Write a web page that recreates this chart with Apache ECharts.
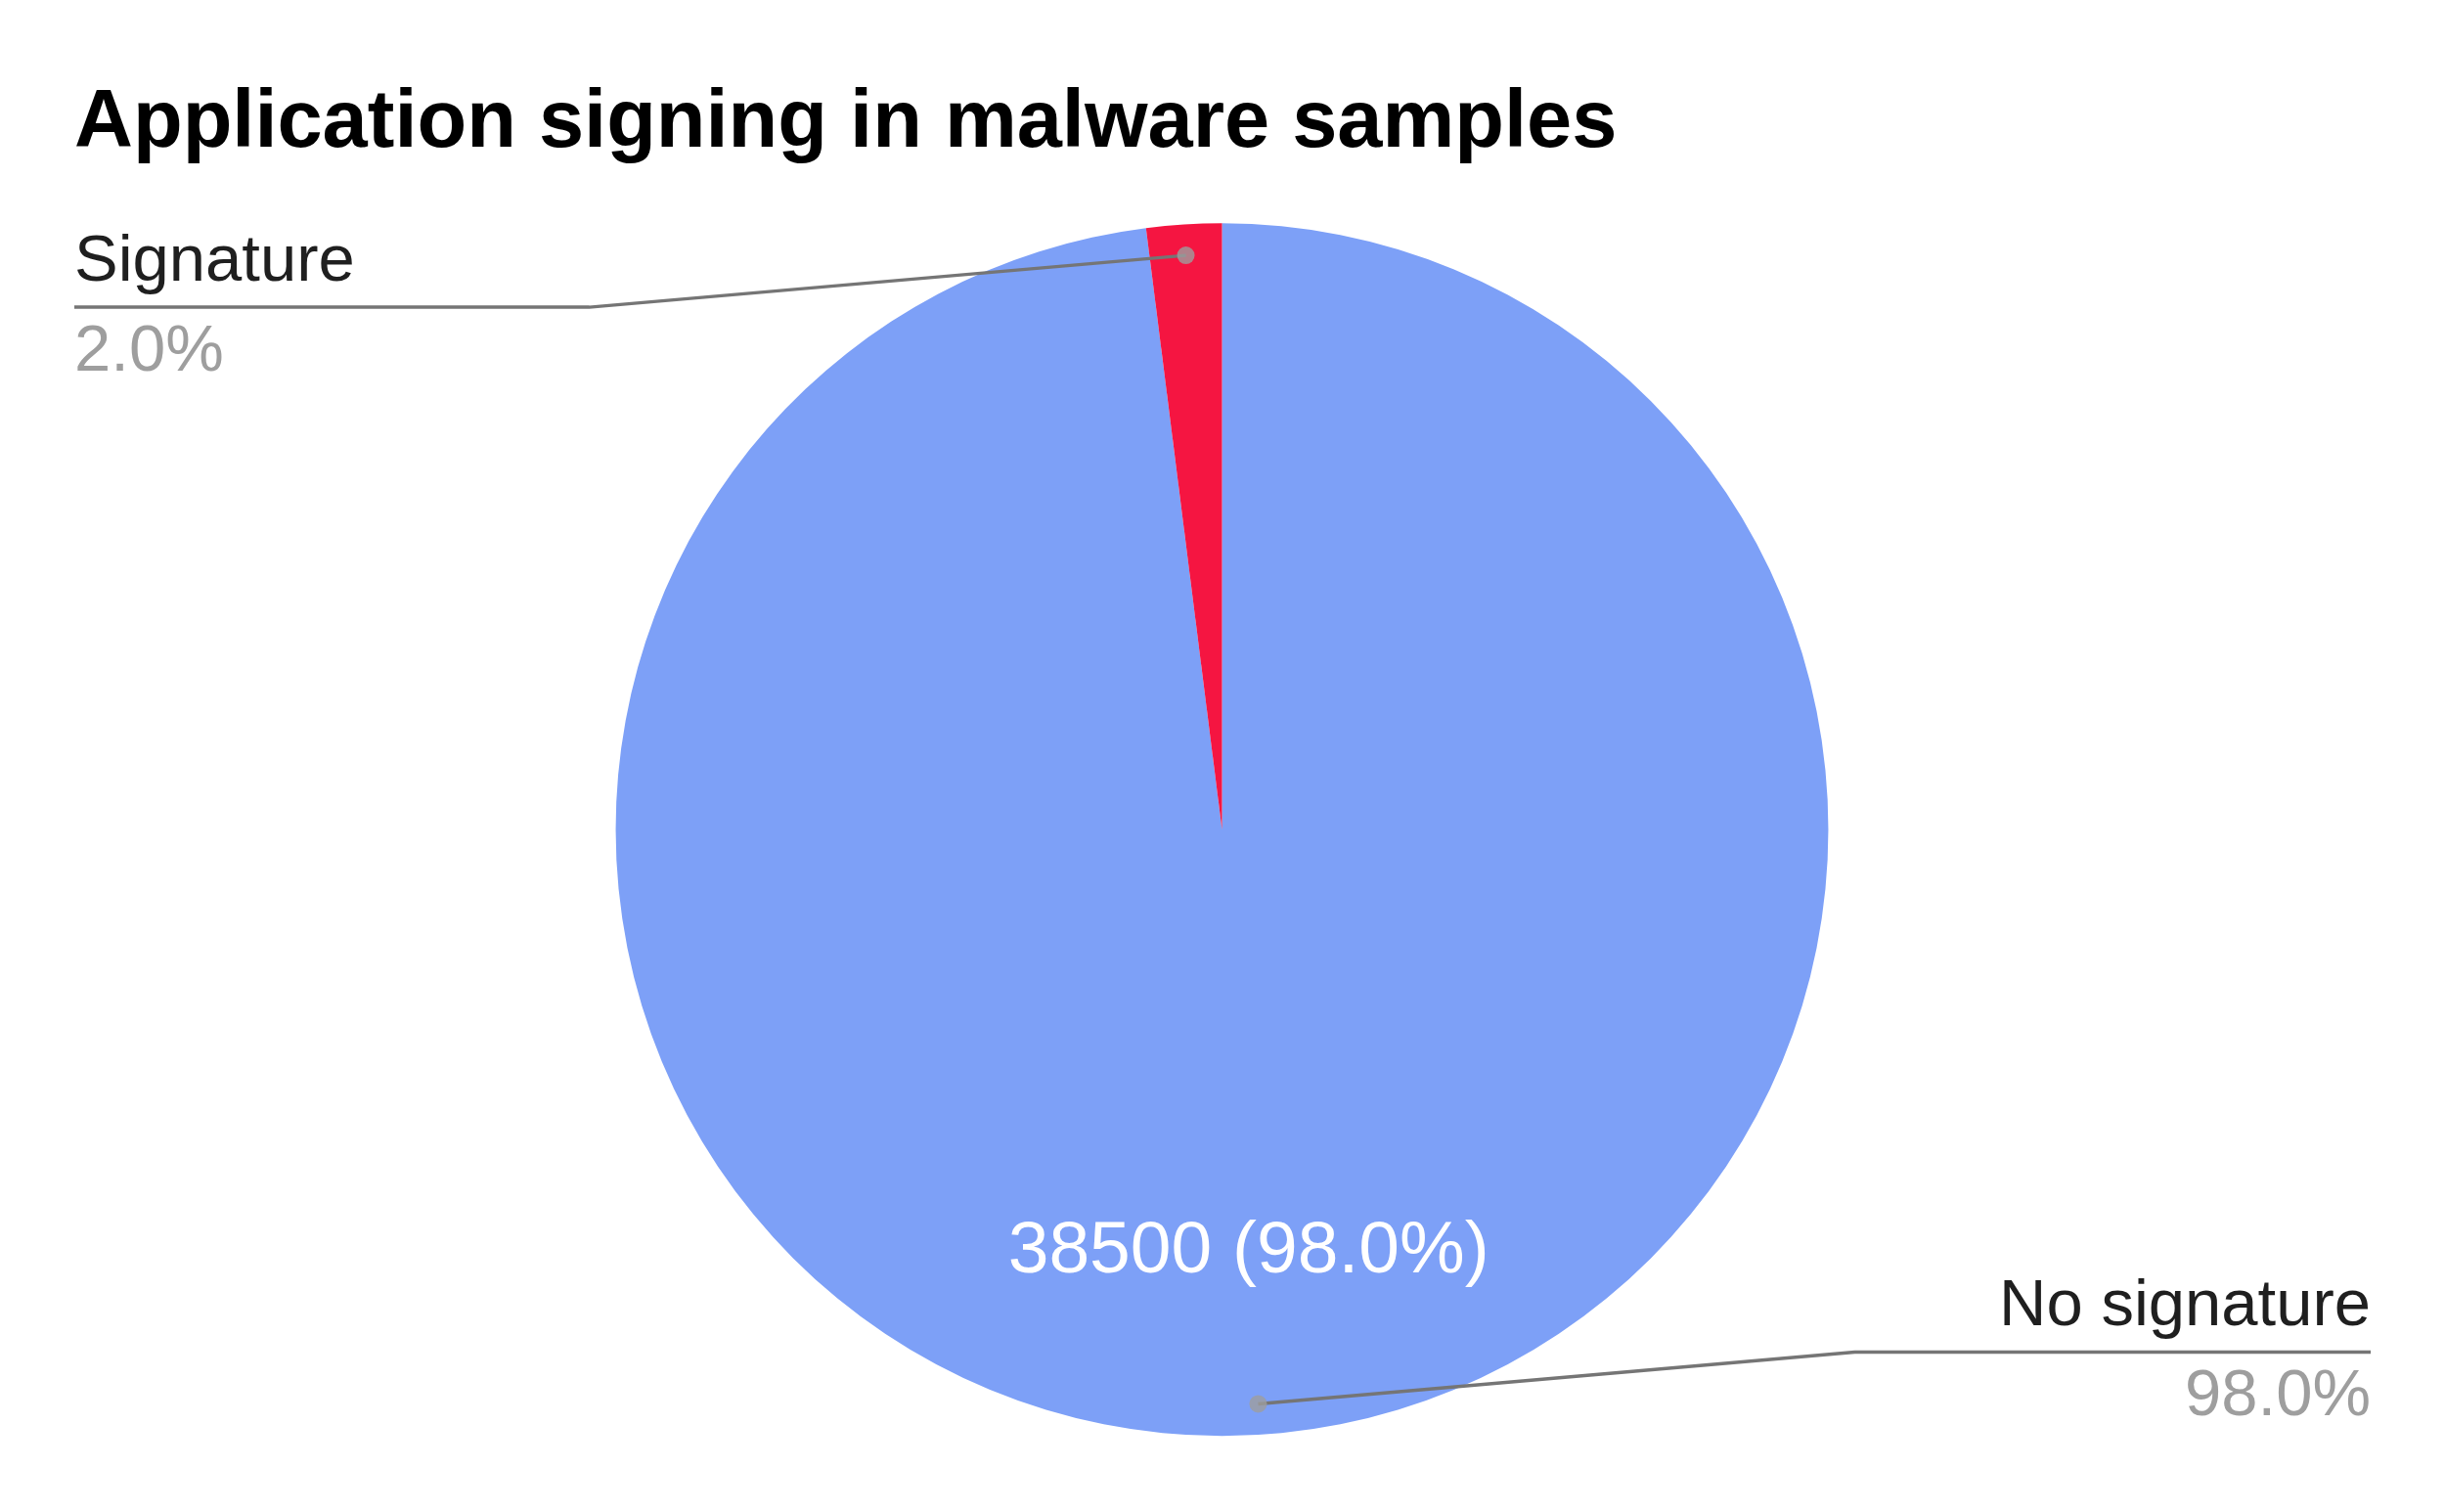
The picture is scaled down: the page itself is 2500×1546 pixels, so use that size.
<!DOCTYPE html>
<html>
<head>
<meta charset="utf-8">
<script src="https://cdn.jsdelivr.net/npm/echarts@6/dist/echarts.min.js"></script>
<style>
  html, body { margin: 0; padding: 0; background: #ffffff; }
  #chart { width: 2500px; height: 1546px; }
</style>
</head>
<body>
<div id="chart"></div>
<script>
// ---- data ----
const titleText = 'Application signing in malware samples';
const categories = ['No signature', 'Signature'];
const values = [38500, 786];

// ---- styling / layout constants ----
const sliceColors = ['#7DA0F7', '#F51541'];
const FONT = "Arial, 'Liberation Sans', sans-serif";
const CENTER = ['49.98%', '54.87%'];
const CX_F = 0.4998, CY_F = 0.5487, R_F = 0.802;
const RADIUS = R_F * 100 + '%';
const DOT_R = 0.949;          // leader-line anchor, fraction of radius
const KNEE_DX = 610, KNEE_DY = 53, EDGE = 76;

const total = values.reduce((a, b) => a + b, 0);
const mids = [];
let cum = 0;
values.forEach(v => { mids.push(cum + v / 2); cum += v; });

const chart = echarts.init(document.getElementById('chart'), null, { renderer: 'canvas' });

function pieGeom() {
  const W = chart.getWidth(), H = chart.getHeight();
  return { W, H, cx: W * CX_F, cy: H * CY_F, r: R_F * Math.min(W, H) / 2 };
}

const pieBase = {
  type: 'pie',
  center: CENTER,
  startAngle: 90,
  clockwise: true,
  silent: true,
  avoidLabelOverlap: false,
  emphasis: { disabled: true }
};

const option = {
  animation: false,
  backgroundColor: '#ffffff',
  title: {
    text: titleText,
    left: 76,
    top: 86,
    padding: 0,
    textStyle: { fontFamily: FONT, fontSize: 83, fontWeight: 'bold', color: '#000000' }
  },
  polar: { center: CENTER, radius: RADIUS },
  angleAxis: { type: 'value', min: 0, max: total, startAngle: 90, clockwise: true, show: false },
  radiusAxis: { type: 'value', min: 0, max: 1, show: false },
  series: [
    // coloured slices
    Object.assign({}, pieBase, {
      radius: RADIUS,
      z: 2,
      itemStyle: { borderWidth: 0 },
      data: categories.map((c, i) => ({ name: c, value: values[i], itemStyle: { color: sliceColors[i] } })),
      label: { show: false },
      labelLine: { show: false }
    }),
    // value text inside the large slice
    Object.assign({}, pieBase, {
      radius: ['31%', RADIUS],
      z: 3,
      itemStyle: { color: 'rgba(0,0,0,0)', borderWidth: 0 },
      data: categories.map((c, i) => ({ name: c, value: values[i] })),
      label: {
        show: true,
        position: 'inside',
        fontFamily: FONT,
        fontSize: 75,
        color: '#ffffff',
        formatter: p => p.percent >= 5 ? p.value + ' (' + p.percent.toFixed(1) + '%)' : ''
      },
      labelLine: { show: false }
    }),
    // outside labels with leader lines
    Object.assign({}, pieBase, {
      radius: RADIUS,
      z: 4,
      itemStyle: { color: 'rgba(0,0,0,0)', borderWidth: 0 },
      data: categories.map((c, i) => ({ name: c, value: values[i] })),
      label: {
        show: true,
        position: 'outside',
        fontFamily: FONT,
        formatter: p => '{n|' + p.name + '}\n{p|' + p.percent.toFixed(1) + '%}',
        rich: {
          n: { fontFamily: FONT, fontSize: 67, color: '#1f1f1f', lineHeight: 92 },
          p: { fontFamily: FONT, fontSize: 67, color: '#9e9e9e', lineHeight: 92 }
        }
      },
      labelLine: {
        show: true, length: 20, length2: 20, smooth: false,
        lineStyle: { color: '#757575', width: 3.5 }
      },
      labelLayout: function (params) {
        const g = pieGeom();
        const idx = params.dataIndex;
        const th = mids[idx] / total * Math.PI * 2;
        const dx = g.cx + DOT_R * g.r * Math.sin(th);
        const dy = g.cy - DOT_R * g.r * Math.cos(th);
        const side = dx < g.cx ? -1 : 1;
        const vdir = dy < g.cy ? 1 : -1;
        const kx = dx + side * KNEE_DX;
        const ky = dy + vdir * KNEE_DY;
        const ex = side < 0 ? EDGE : g.W - EDGE;
        return {
          x: ex,
          y: ky,
          align: side < 0 ? 'left' : 'right',
          verticalAlign: 'middle',
          labelLinePoints: [[dx, dy], [kx, ky], [ex, ky]]
        };
      }
    }),
    // anchor dots
    {
      type: 'scatter',
      coordinateSystem: 'polar',
      silent: true,
      z: 10,
      symbol: 'circle',
      symbolSize: 18,
      itemStyle: { color: '#9e9e9e', borderWidth: 0 },
      data: mids.map(m => [DOT_R, m])
    }
  ]
};

chart.setOption(option);
</script>
</body>
</html>
